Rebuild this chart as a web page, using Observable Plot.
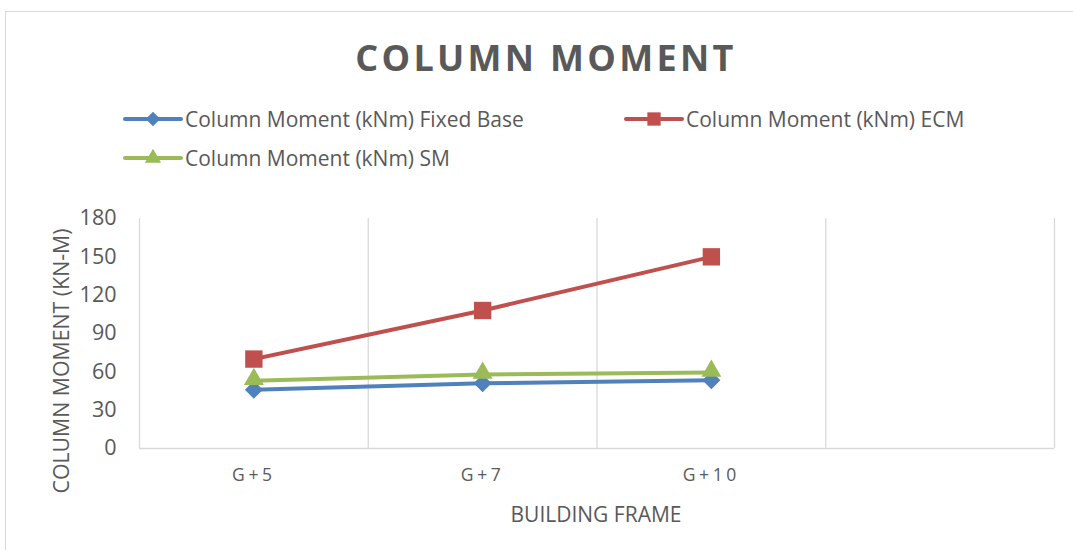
<!DOCTYPE html>
<html>
<head>
<meta charset="utf-8">
<script src="https://cdn.jsdelivr.net/npm/d3@7"></script>
<script src="https://cdn.jsdelivr.net/npm/@observablehq/plot@0.6"></script>
<style>
  html, body { margin: 0; padding: 0; background: #fff; }
  #wrap { position: relative; width: 1073px; height: 550px; overflow: hidden; font-family: "Open Sans", sans-serif; color: #595959; }
  #frame { position: absolute; left: 5px; top: 11px; width: 1100px; height: 600px; border: 1px solid #d9d9d9; box-sizing: border-box; }
  #title { position: absolute; left: 0; width: 1092px; top: 34px; text-align: center; font-weight: 700; font-size: 36px; letter-spacing: 3.3px; line-height: 48px; }
  .leg { position: absolute; font-size: 21px; line-height: 26px; white-space: nowrap; }
  .leg svg { position: absolute; left: -62px; top: -7px; }
  #ylab { position: absolute; left: 60px; top: 361px; transform: translate(-50%, -50%) rotate(-90deg); font-size: 21.3px; white-space: nowrap; }
  #xlab { position: absolute; left: 596px; top: 514px; transform: translate(-50%, -50%); font-size: 21px; white-space: nowrap; }
  #plot { position: absolute; left: 0; top: 200px; }
</style>
</head>
<body>
<div id="wrap">
  <div id="frame"></div>
  <div id="title">COLUMN MOMENT</div>
  <div id="legend"></div>
  <div id="ylab">COLUMN MOMENT (KN-M)</div>
  <div id="xlab">BUILDING FRAME</div>
  <div id="plot"></div>
</div>
<script>
const categories = ["G+5", "G+7", "G+10"];
const seriesNames = ["Column Moment (kNm) Fixed Base", "Column Moment (kNm) ECM", "Column Moment (kNm) SM"];
const fixedBase = [46, 51, 53.5];
const ecm = [70, 108, 150];
const sm = [53, 58, 59.5];
const yTicks = [0, 30, 60, 90, 120, 150, 180];
const colors = ["#4F81BD", "#C0504D", "#9BBB59"];
const symbols = ["diamond2", "square", "triangle"];

const seriesValues = [fixedBase, ecm, sm];
const data = [];
seriesValues.forEach((vals, s) => vals.forEach((v, i) => data.push({series: seriesNames[s], idx: i, cat: categories[i], value: v})));
const boundaries = [-0.5, 0.5, 1.5, 2.5, 3.5];
const dotR = [8.1, 9.8, 7.4];

const marks = [
  Plot.ruleX(boundaries, {x: d => d, stroke: "#d9d9d9", strokeWidth: 1.3}),
  Plot.ruleY([0], {stroke: "#d9d9d9", strokeWidth: 1.5})
];
seriesNames.forEach((name, s) => {
  const sub = data.filter(d => d.series === name);
  marks.push(Plot.line(sub, {x: "idx", y: "value", stroke: colors[s], strokeWidth: 4, strokeLinejoin: "round"}));
  marks.push(Plot.dot(sub, {x: "idx", y: "value", fill: colors[s], stroke: "none", symbol: symbols[s], r: dotR[s], dy: s === 2 ? -1.5 : 0}));
});

const chart = Plot.plot({
  width: 1073,
  height: 350,
  marginTop: 18,
  marginBottom: 102,
  marginLeft: 139,
  marginRight: 19,
  style: {fontFamily: "Open Sans, sans-serif", color: "#595959", background: "transparent", overflow: "visible"},
  x: {type: "linear", domain: [-0.5, 3.5], ticks: [0, 1, 2], tickFormat: i => categories[i], tickSize: 0, tickPadding: 20, label: null},
  y: {domain: [0, 180], ticks: yTicks, tickSize: 0, tickPadding: 23, label: null},
  marks
});
chart.querySelectorAll('[aria-label="x-axis tick label"] text').forEach(t => { t.style.fontSize = "17.5px"; t.style.letterSpacing = "3.6px"; });
chart.querySelectorAll('[aria-label="y-axis tick label"] text').forEach(t => { t.style.fontSize = "21.5px"; });
document.getElementById("plot").appendChild(chart);

// legend
const legPos = [[185, 106], [686, 106], [185, 145]];
const leg = document.getElementById("legend");
seriesNames.forEach((name, s) => {
  const div = document.createElement("div");
  div.className = "leg";
  div.style.left = legPos[s][0] + "px";
  div.style.top = legPos[s][1] + "px";
  div.textContent = name;
  const svgNS = "http://www.w3.org/2000/svg";
  const svg = document.createElementNS(svgNS, "svg");
  svg.setAttribute("width", 60); svg.setAttribute("height", 40);
  const line = document.createElementNS(svgNS, "line");
  line.setAttribute("x1", 2); line.setAttribute("x2", 58); line.setAttribute("y1", 20); line.setAttribute("y2", 20);
  line.setAttribute("stroke", colors[s]); line.setAttribute("stroke-width", 4);
  line.setAttribute("stroke-linecap", "round");
  svg.appendChild(line);
  const p = document.createElementNS(svgNS, "path");
  const sym = {diamond2: d3.symbolDiamond2, square: d3.symbolSquare, triangle: d3.symbolTriangle}[symbols[s]];
  const r = [6.5, 7.5, 6][s];
  p.setAttribute("d", d3.symbol(sym, Math.PI * r * r)());
  p.setAttribute("transform", "translate(30,20)");
  p.setAttribute("fill", colors[s]);
  svg.appendChild(p);
  div.appendChild(svg);
  leg.appendChild(div);
});
</script>
</body>
</html>
